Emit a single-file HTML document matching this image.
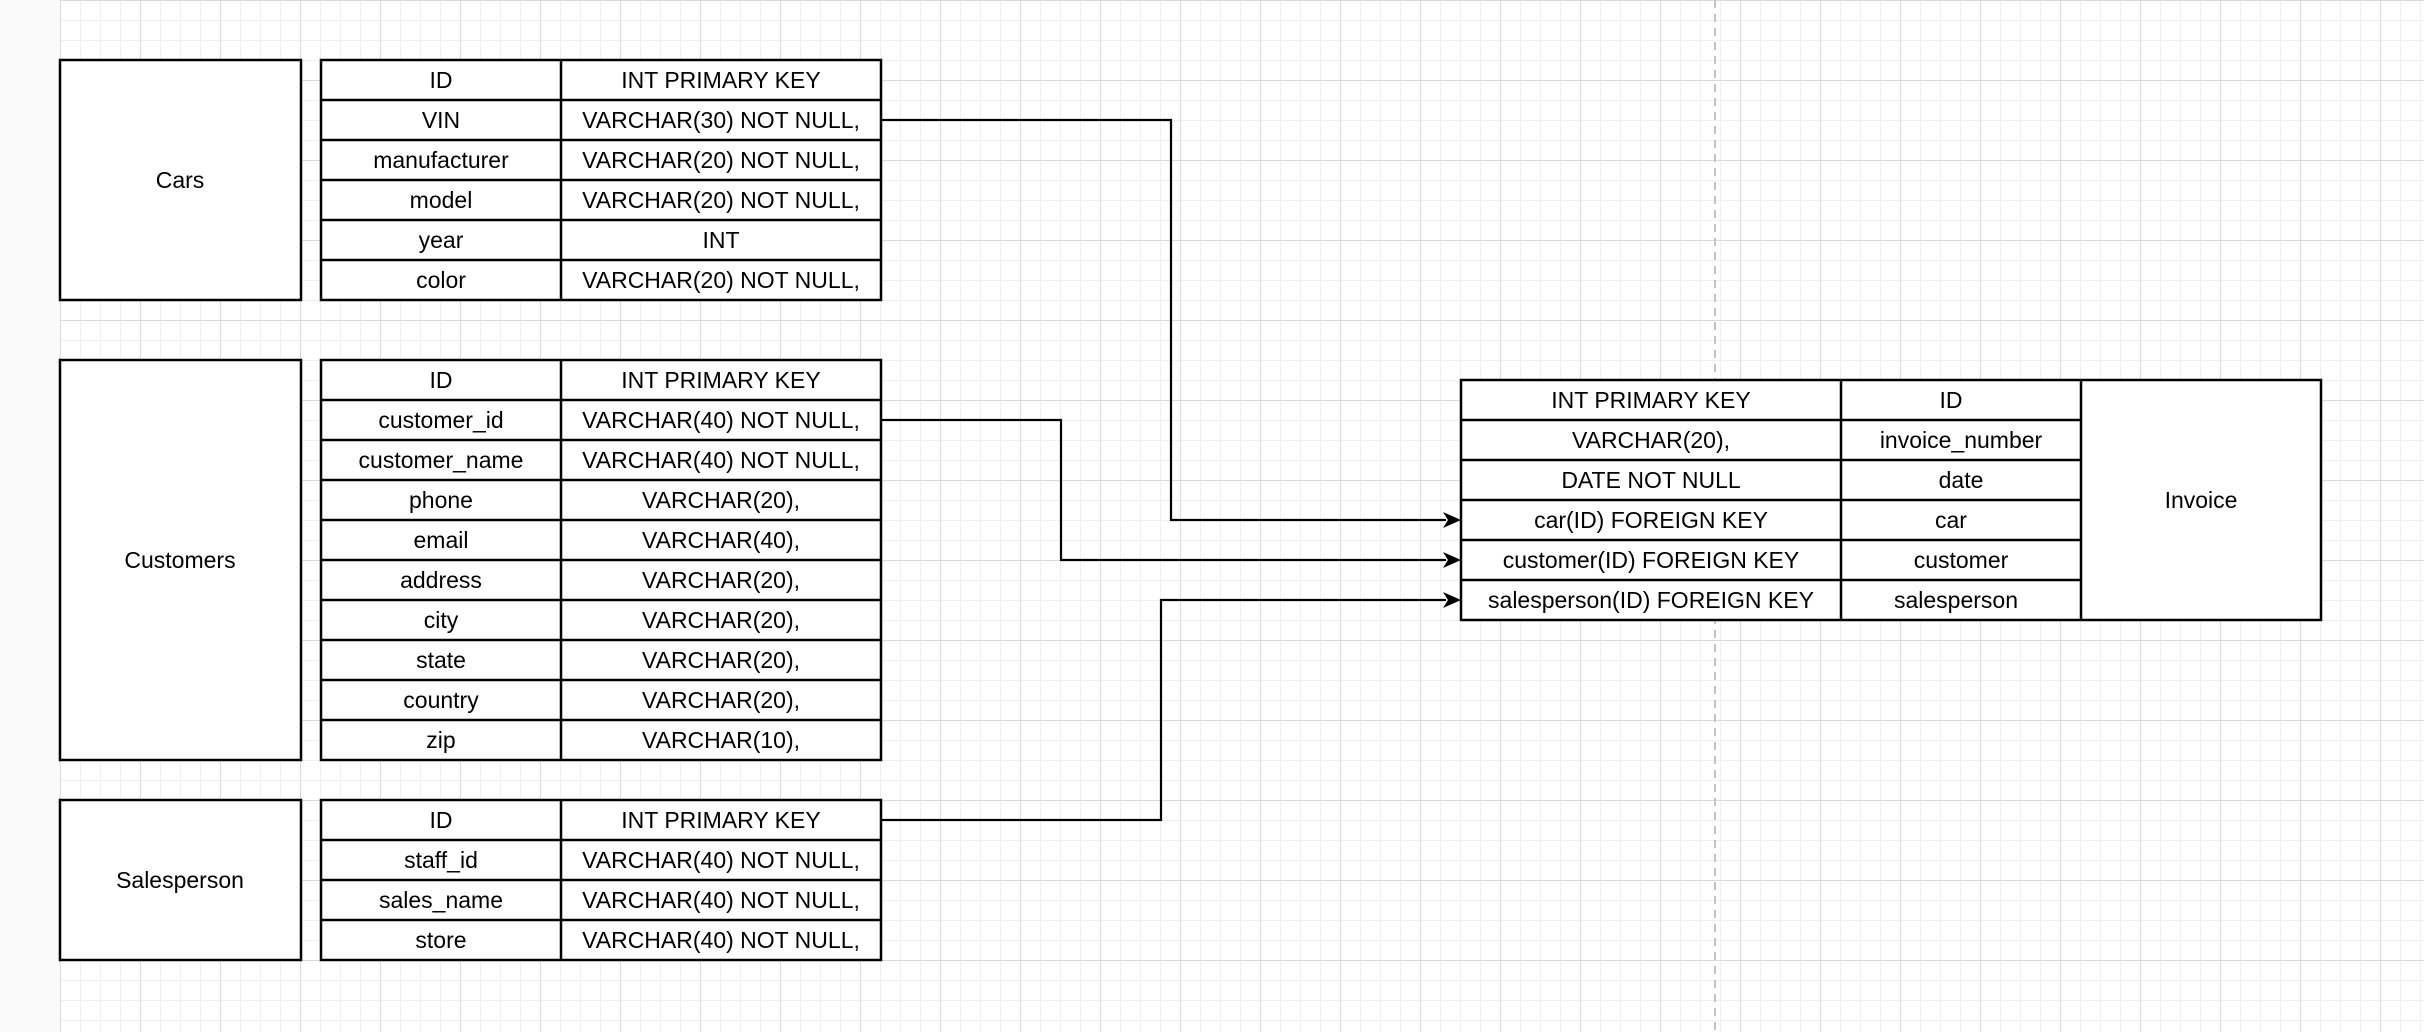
<!DOCTYPE html>
<html><head><meta charset="utf-8"><style>
html,body{margin:0;padding:0;background:#fff;}
svg{display:block;}
text{font-family:"Liberation Sans",Arial,sans-serif;font-size:23px;fill:#000;text-anchor:middle;}
</style></head><body>
<svg width="2424" height="1032" viewBox="0 0 2424 1032" xmlns="http://www.w3.org/2000/svg">
<defs>
<pattern id="minor" x="0" y="0" width="20" height="20" patternUnits="userSpaceOnUse">
<path d="M0 0H20M0 0V20" stroke="#f0f0f0" stroke-width="2" fill="none"/>
</pattern>
<pattern id="major" x="60" y="0" width="80" height="80" patternUnits="userSpaceOnUse">
<path d="M0 0H80M0 0V80" stroke="#d2d2d2" stroke-width="1.5" fill="none"/>
</pattern>
</defs>
<rect x="0" y="0" width="2424" height="1032" fill="#fff"/>
<rect x="60" y="0" width="2364" height="1032" fill="url(#minor)"/>
<rect x="60" y="0" width="2364" height="1032" fill="url(#major)"/>
<rect x="0" y="0" width="60" height="1032" fill="#fafafa"/>
<line x1="1715" y1="0" x2="1715" y2="1032" stroke="#c4c4c4" stroke-width="2" stroke-dasharray="8,6"/>

<g fill="#fff" stroke="#000" stroke-width="2.5">
<!-- Cars -->
<rect x="60" y="60" width="241" height="240"/>
<rect x="321" y="60" width="560" height="240"/>
<!-- Customers -->
<rect x="60" y="360" width="241" height="400"/>
<rect x="321" y="360" width="560" height="400"/>
<!-- Salesperson -->
<rect x="60" y="800" width="241" height="160"/>
<rect x="321" y="800" width="560" height="160"/>
<!-- Invoice -->
<rect x="1461" y="380" width="860" height="240"/>
</g>
<g stroke="#000" stroke-width="2.5" fill="none">
<path d="M561 60V300M321 100H881M321 140H881M321 180H881M321 220H881M321 260H881"/>
<path d="M561 360V760M321 400H881M321 440H881M321 480H881M321 520H881M321 560H881M321 600H881M321 640H881M321 680H881M321 720H881"/>
<path d="M561 800V960M321 840H881M321 880H881M321 920H881"/>
<path d="M1841 380V620M2081 380V620M1461 420H2081M1461 460H2081M1461 500H2081M1461 540H2081M1461 580H2081"/>
</g>

<!-- connectors -->
<g stroke="#000" stroke-width="2.2" fill="none">
<path d="M881 120H1171V520H1446"/>
<path d="M881 420H1061V560H1446"/>
<path d="M881 820H1161V600H1446"/>
</g>
<g fill="#000">
<path d="M1461 520L1443 512L1448 520L1443 528Z"/>
<path d="M1461 560L1443 552L1448 560L1443 568Z"/>
<path d="M1461 600L1443 592L1448 600L1443 608Z"/>
</g>

<text x="180" y="188">Cars</text>
<text x="180" y="568">Customers</text>
<text x="180" y="888">Salesperson</text>
<text x="2201" y="508">Invoice</text>

<g>
<text x="441" y="88">ID</text><text x="721" y="88">INT PRIMARY KEY</text>
<text x="441" y="128">VIN</text><text x="721" y="128">VARCHAR(30) NOT NULL,</text>
<text x="441" y="168">manufacturer</text><text x="721" y="168">VARCHAR(20) NOT NULL,</text>
<text x="441" y="208">model</text><text x="721" y="208">VARCHAR(20) NOT NULL,</text>
<text x="441" y="248">year</text><text x="721" y="248">INT</text>
<text x="441" y="288">color</text><text x="721" y="288">VARCHAR(20) NOT NULL,</text>

<text x="441" y="388">ID</text><text x="721" y="388">INT PRIMARY KEY</text>
<text x="441" y="428">customer_id</text><text x="721" y="428">VARCHAR(40) NOT NULL,</text>
<text x="441" y="468">customer_name</text><text x="721" y="468">VARCHAR(40) NOT NULL,</text>
<text x="441" y="508">phone</text><text x="721" y="508">VARCHAR(20),</text>
<text x="441" y="548">email</text><text x="721" y="548">VARCHAR(40),</text>
<text x="441" y="588">address</text><text x="721" y="588">VARCHAR(20),</text>
<text x="441" y="628">city</text><text x="721" y="628">VARCHAR(20),</text>
<text x="441" y="668">state</text><text x="721" y="668">VARCHAR(20),</text>
<text x="441" y="708">country</text><text x="721" y="708">VARCHAR(20),</text>
<text x="441" y="748">zip</text><text x="721" y="748">VARCHAR(10),</text>

<text x="441" y="828">ID</text><text x="721" y="828">INT PRIMARY KEY</text>
<text x="441" y="868">staff_id</text><text x="721" y="868">VARCHAR(40) NOT NULL,</text>
<text x="441" y="908">sales_name</text><text x="721" y="908">VARCHAR(40) NOT NULL,</text>
<text x="441" y="948">store</text><text x="721" y="948">VARCHAR(40) NOT NULL,</text>

<text x="1651" y="408">INT PRIMARY KEY</text><text x="1951" y="408">ID</text>
<text x="1651" y="448">VARCHAR(20),</text><text x="1961" y="448">invoice_number</text>
<text x="1651" y="488">DATE NOT NULL</text><text x="1961" y="488">date</text>
<text x="1651" y="528">car(ID) FOREIGN KEY</text><text x="1951" y="528">car</text>
<text x="1651" y="568">customer(ID) FOREIGN KEY</text><text x="1961" y="568">customer</text>
<text x="1651" y="608">salesperson(ID) FOREIGN KEY</text><text x="1956" y="608">salesperson</text>
</g>
</svg>
</body></html>
